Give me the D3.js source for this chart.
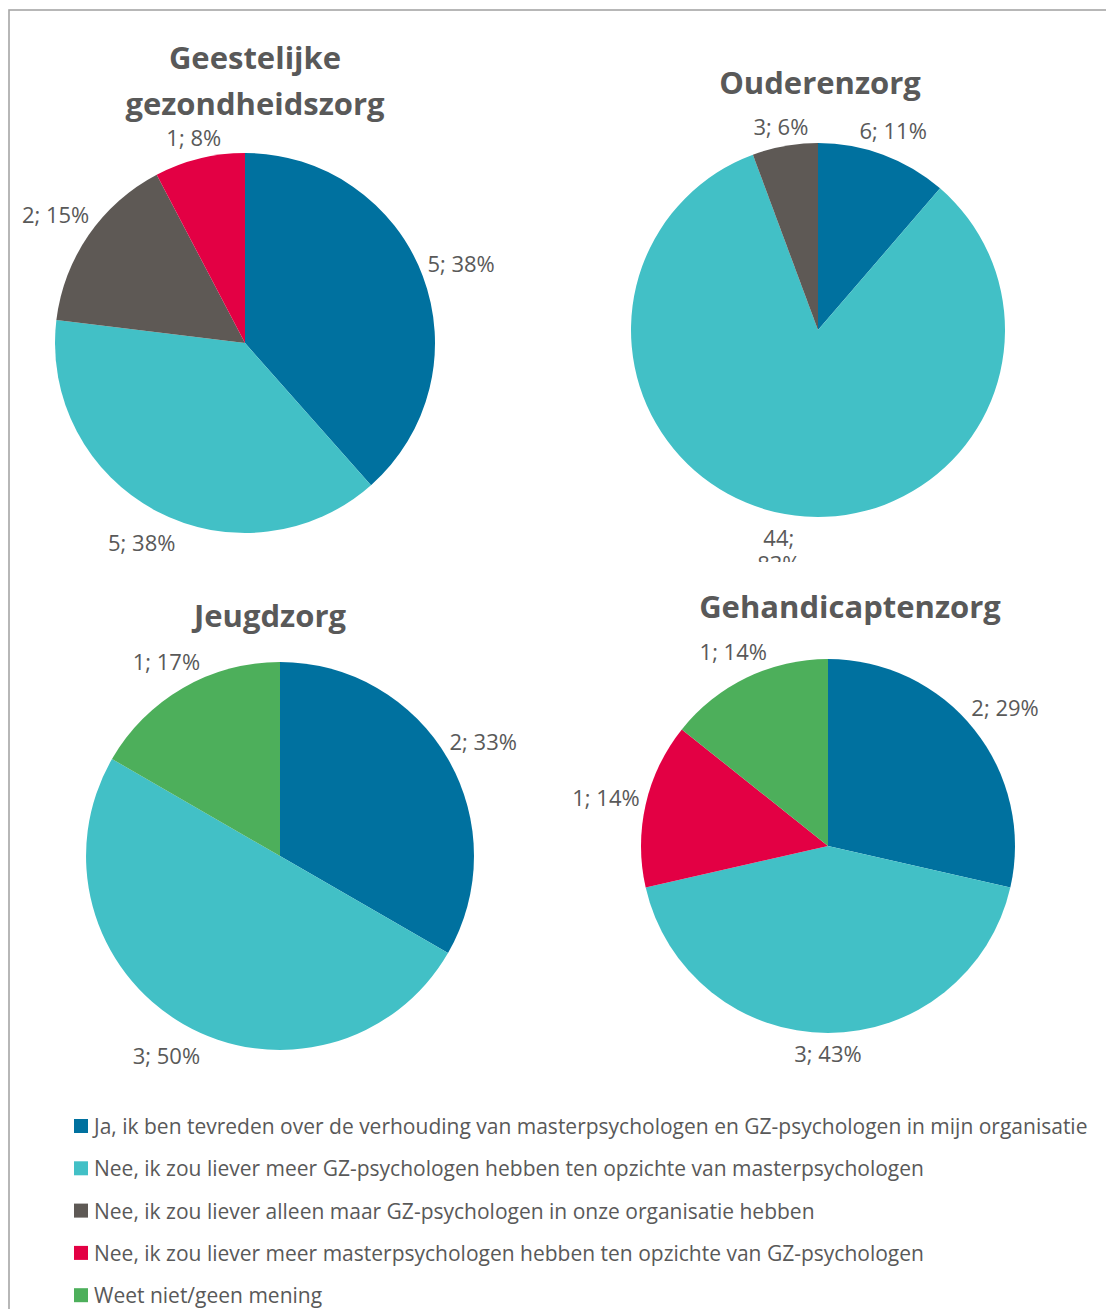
<!DOCTYPE html>
<html>
<head>
<meta charset="utf-8">
<script src="https://cdn.jsdelivr.net/npm/d3@7"></script>
<style>
  body { margin: 0; background: #fff; }
  text { font-family: "Open Sans", Lato, sans-serif; fill: #595959; }
</style>
</head>
<body>
<svg id="chart" width="1106" height="1309"></svg>
<script>
// answer categories (legend order)
const categories = [
  "Ja, ik ben tevreden over de verhouding van masterpsychologen en GZ-psychologen in mijn organisatie",
  "Nee, ik zou liever meer GZ-psychologen hebben ten opzichte van masterpsychologen",
  "Nee, ik zou liever alleen maar GZ-psychologen in onze organisatie hebben",
  "Nee, ik zou liever meer masterpsychologen hebben ten opzichte van GZ-psychologen",
  "Weet niet/geen mening"
];
const sectors = ["Geestelijke gezondheidszorg", "Ouderenzorg", "Jeugdzorg", "Gehandicaptenzorg"];

// counts per category, same order as categories
const ggzValues = [5, 5, 2, 1, 0];
const ouderenValues = [6, 44, 3, 0, 0];
const jeugdValues = [2, 3, 0, 0, 1];
const gehandicaptenValues = [2, 3, 0, 1, 1];

const colors = ["#00719f", "#42c0c6", "#5e5955", "#e30044", "#4daf5b"];

// layout for each small pie
const panels = [
  { values: ggzValues, title: ["Geestelijke", "gezondheidszorg"], tx: 255, ty: 57, cx: 245, cy: 343, r: 190, clip: [10, 10, 540, 580] },
  { values: ouderenValues, title: ["Ouderenzorg"], tx: 820, ty: 82, cx: 818, cy: 330, r: 187, clip: [560, 10, 1106, 562] },
  { values: jeugdValues, title: ["Jeugdzorg"], tx: 270, ty: 615, cx: 280, cy: 856, r: 194, clip: [10, 580, 540, 1100] },
  { values: gehandicaptenValues, title: ["Gehandicaptenzorg"], tx: 850, ty: 606, cx: 828, cy: 846, r: 187, clip: [560, 580, 1106, 1100] }
];

const svg = d3.select("#chart");
const color = d3.scaleOrdinal().domain(d3.range(categories.length)).range(colors);
const pie = d3.pie().sort(null).value(d => d.v);

// outer frame (right/bottom edges fall outside the picture)
svg.append("rect")
  .attr("x", 9).attr("y", 10)
  .attr("width", 1200).attr("height", 1400)
  .attr("fill", "none")
  .attr("stroke", "#a6a6a6")
  .attr("stroke-width", 1.6);

const defs = svg.append("defs");

panels.forEach((p, i) => {
  defs.append("clipPath").attr("id", "clip" + i)
    .append("rect")
    .attr("x", p.clip[0]).attr("y", p.clip[1])
    .attr("width", p.clip[2] - p.clip[0]).attr("height", p.clip[3] - p.clip[1]);

  const g = svg.append("g").attr("clip-path", `url(#clip${i})`);
  const total = d3.sum(p.values);
  const data = p.values.map((v, k) => ({ v, k }));
  const arcs = pie(data).filter(a => a.data.v > 0);
  const arc = d3.arc().innerRadius(0).outerRadius(p.r);

  g.append("text")
    .attr("x", p.tx).attr("y", p.ty)
    .attr("text-anchor", "middle")
    .attr("dominant-baseline", "central")
    .style("font-size", "31px")
    .style("font-weight", "bold")
    .selectAll("tspan").data(p.title).join("tspan")
    .attr("x", p.tx)
    .attr("dy", (d, j) => j === 0 ? 0 : 46)
    .text(d => d);

  g.append("g").attr("transform", `translate(${p.cx},${p.cy})`)
    .selectAll("path").data(arcs).join("path")
    .attr("d", arc)
    .attr("fill", d => color(d.data.k));

  // data labels outside the pie, pushed out along the slice's mid angle
  arcs.forEach(a => {
    const pct = Math.round(a.data.v / total * 100);
    const mid = (a.startAngle + a.endAngle) / 2;
    const s = Math.sin(mid), c = Math.cos(mid);
    const t = g.append("text")
      .attr("text-anchor", "middle")
      .attr("dominant-baseline", "central")
      .style("font-size", "22px");
    let lines = [`${a.data.v}; ${pct}%`];
    const lh = 26;
    t.text(lines[0]);
    let w = t.node().getComputedTextLength();
    let h = lh;
    let d = p.r + 5 + Math.abs(s) * w / 2 + Math.abs(c) * h / 2;
    let y = p.cy - d * c;
    // too close to the panel bottom: wrap the label on two lines
    if (y + h / 2 > p.clip[3] - 12) {
      lines = [`${a.data.v};`, `${pct}%`];
      t.text(lines[1]);
      w = t.node().getComputedTextLength();
      h = lh * 2;
      d = p.r + 5 + Math.abs(s) * w / 2 + Math.abs(c) * h / 2;
      y = p.cy - d * c;
    }
    const x = p.cx + d * s;
    t.text(null);
    t.selectAll("tspan").data(lines).join("tspan")
      .attr("x", x)
      .attr("y", (l, j) => y - (lines.length - 1) * lh / 2 + j * lh + 2)
      .text(l => l);
  });
});

// legend
const legend = svg.append("g").selectAll("g").data(categories).join("g")
  .attr("transform", (d, i) => `translate(74,${1126 + i * 42.3})`);
legend.append("rect")
  .attr("x", 0).attr("y", -7)
  .attr("width", 14).attr("height", 14)
  .attr("fill", (d, i) => color(i));
legend.append("text")
  .attr("x", 20).attr("y", 0)
  .attr("dominant-baseline", "central")
  .style("font-size", "21px")
  .text(d => d);
</script>
</body>
</html>
